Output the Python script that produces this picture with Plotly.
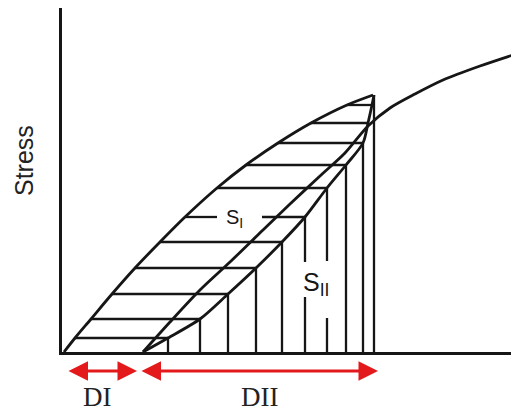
import plotly.graph_objects as go

# drawing units: strain to the right, stress up (about 1 unit per pixel)
# first loading curve, sampled at the hatch stress levels
hatch_stress = [0, 14, 33, 58, 84, 110, 135, 164, 187, 209, 229, 247, 257]
load_strain = [2, 13, 29, 50, 73, 98, 123, 155, 184, 216, 249, 285, 311]
# unloading curve (its points are the corners of the hatching)
unload_strain = [81, 106, 138, 166, 194, 220, 243, 265, 284, 301, 306, 310, 312]

# reloading curve that carries on past the peak
reload_strain = [81, 108, 138, 168, 201, 228, 258, 283, 306, 328, 353, 381, 418, 457]
reload_stress = [0, 30, 62, 90, 122, 148, 176, 199, 226, 244, 258, 272, 286, 299]

# which unloading points drop a vertical line to the strain axis
vertical_idx = [1, 2, 3, 4, 5, 6, 7, 8, 9, 12]

# gaps left in the hatching for the labels
label_gaps_h = {135: (155, 200)}               # stress level -> strain gap
label_gaps_v = {243: (55, 90), 265: (34, 91)}  # strain -> stress gap

# damage ranges under the axis (strain from, strain to, label x)
d_ranges = [("DI", 5, 75, 35), ("DII", 78, 316, 197)]

INK = "#161616"
RED = "#e3191b"
PLOT_W = 457  # px size of the plotting area, for paper coords
PLOT_H = 344


def segments(x0, y0, x1, y1, gap=None, vertical=False):
    """Return one hatch line as x, y lists, split around a gap."""
    if gap is None:
        return [x0, x1, None], [y0, y1, None]
    g0, g1 = gap
    if vertical:
        return [x0, x0, None, x0, x0, None], [y0, g1, None, g0, y1, None]
    return [x0, g0, None, g1, x1, None], [y0, y0, None, y1, y1, None]


hx, hy = [], []
# horizontal hatching between loading and unloading curves
for i in range(1, len(hatch_stress) - 1):
    s = hatch_stress[i]
    xs, ys = segments(load_strain[i], s, unload_strain[i], s, label_gaps_h.get(s))
    hx += xs
    hy += ys

# vertical hatching under the unloading curve
for i in vertical_idx:
    e = unload_strain[i]
    xs, ys = segments(e, hatch_stress[i], e, 0, label_gaps_v.get(e), vertical=True)
    hx += xs
    hy += ys

fig = go.Figure()

fig.add_trace(go.Scatter(
    x=hx, y=hy, mode="lines",
    line=dict(color=INK, width=2.3),
    hoverinfo="skip"
))

for xs, ys in [(load_strain, hatch_stress),
               (unload_strain, hatch_stress),
               (reload_strain, reload_stress)]:
    fig.add_trace(go.Scatter(
        x=xs, y=ys, mode="lines",
        line=dict(color=INK, width=2.8, shape="spline", smoothing=0.8),
        hoverinfo="skip"
    ))

# labels inside the hatching
fig.add_annotation(x=172, y=134, text="S<sub>I</sub>", showarrow=False,
                   font=dict(family="Liberation Sans", size=20, color=INK))
fig.add_annotation(x=254, y=68, text="S<sub>II</sub>", showarrow=False,
                   font=dict(family="Liberation Sans", size=25, color=INK))

# red double arrows and D labels
for label, e0, e1, lx in d_ranges:
    fig.add_annotation(
        x=e1, y=-19 / PLOT_H, xref="x", yref="paper",
        ax=e0, ay=0, axref="x", ayref="pixel",
        text="", showarrow=True, arrowside="end+start",
        arrowhead=2, startarrowhead=2, arrowsize=1.3, startarrowsize=1.3,
        arrowwidth=3, arrowcolor=RED
    )
    fig.add_annotation(
        x=lx, y=-45 / PLOT_H, xref="x", yref="paper", text=label,
        xanchor="center", yanchor="middle", showarrow=False,
        font=dict(family="Liberation Serif", size=27, color="#222222")
    )

fig.add_annotation(
    x=-38 / PLOT_W, y=191 / PLOT_H, xref="paper", yref="paper",
    xanchor="center", yanchor="middle",
    text="Stress", textangle=-90, showarrow=False,
    font=dict(family="Liberation Sans", size=25, color="#222222")
)

# the page body adds an 8px margin, so the figure is 8px smaller
fig.update_layout(
    width=511, height=404,
    margin=dict(l=54, r=0, t=0, b=60),
    paper_bgcolor="white", plot_bgcolor="white",
    showlegend=False
)
fig.update_xaxes(range=[0, PLOT_W], showgrid=False, zeroline=False,
                 showticklabels=False, ticks="",
                 showline=True, linecolor=INK, linewidth=3)
fig.update_yaxes(range=[0, PLOT_H], showgrid=False, zeroline=False,
                 showticklabels=False, ticks="",
                 showline=True, linecolor=INK, linewidth=3)

fig.write_html("out.html")
